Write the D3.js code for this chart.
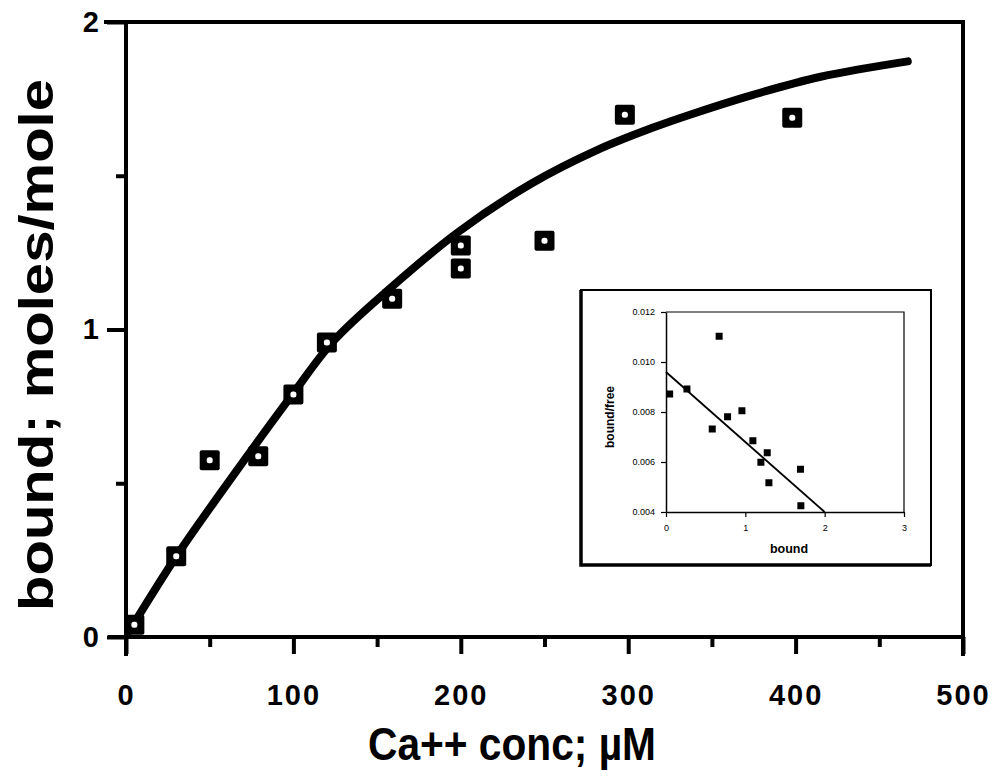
<!DOCTYPE html>
<meta charset="utf-8">
<style>
  body { margin: 0; background: #fff; }
  text { font-family: "Liberation Sans", Arial, sans-serif; fill: #000; }
</style>
<body>
<script src="https://d3js.org/d3.v7.min.js"></script>
<script>

// Main plot: measured binding (Ca++ concentration vs bound)
var concVals  = [5, 30, 50, 79, 100, 120, 159, 200, 200, 250, 298, 398];
var boundVals = [0.04, 0.263, 0.575, 0.588, 0.789, 0.958, 1.10, 1.273, 1.198, 1.289, 1.698, 1.689];

// Fitted curve
var curveX = [2, 30, 57, 79, 100, 124, 158, 198, 242, 282, 314, 336, 375, 415, 467];
var curveY = [0.02, 0.262, 0.472, 0.638, 0.793, 0.963, 1.135, 1.315, 1.474, 1.585, 1.655, 1.697, 1.764, 1.822, 1.872];

var xMajor = [0, 100, 200, 300, 400, 500];
var xMinor = [50, 150, 250, 350, 450];
var yMajor = [0, 1, 2];
var yMinor = [0.5, 1.5];

// Inset: Scatchard plot
var scatBound = [0.046, 0.264, 0.67, 0.583, 0.776, 0.957, 1.095, 1.196, 1.276, 1.297, 1.695, 1.70];
var scatRatio = [0.00872, 0.00892, 0.01103, 0.00732, 0.00781, 0.00805, 0.00685, 0.00599, 0.00637, 0.00517, 0.00571, 0.00425];
var fitBound = [0, 2.0];
var fitRatio = [0.0096, 0.0040];
var insetXTicks = [0, 1, 2, 3];
var insetYTicks = [0.004, 0.006, 0.008, 0.010, 0.012];

var svg = d3.select("body").append("svg")
    .attr("width", 995)
    .attr("height", 779);

var x = d3.scaleLinear().domain([0, 500]).range([126, 963]);
var y = d3.scaleLinear().domain([0, 2]).range([637, 22]);

// ticks (labels only on major)
var xMajAxis = svg.append("g")
    .attr("transform", "translate(0," + y(0) + ")")
    .call(d3.axisBottom(x).tickValues(xMajor).tickSize(17).tickSizeOuter(0).tickPadding(30)
      .tickFormat(d3.format("d")));
var xMinAxis = svg.append("g")
    .attr("transform", "translate(0," + y(0) + ")")
    .call(d3.axisBottom(x).tickValues(xMinor).tickSize(10).tickSizeOuter(0).tickFormat(""));
var yMajAxis = svg.append("g")
    .attr("transform", "translate(" + x(0) + ",0)")
    .call(d3.axisLeft(y).tickValues(yMajor).tickSize(19).tickSizeOuter(0).tickPadding(6)
      .tickFormat(d3.format("d")));
var yMinAxis = svg.append("g")
    .attr("transform", "translate(" + x(0) + ",0)")
    .call(d3.axisLeft(y).tickValues(yMinor).tickSize(10).tickSizeOuter(0).tickFormat(""));

[xMajAxis, xMinAxis, yMajAxis, yMinAxis].forEach(function(g) {
  g.select(".domain").remove();
  g.selectAll("line").attr("stroke", "#000").attr("stroke-width", 4);
  g.selectAll("text")
    .style("font-size", "29px")
    .style("font-weight", "bold")
    .style("letter-spacing", "2px")
    .attr("fill", "#000");
});

// frame lines
svg.append("g").selectAll("line")
  .data([
    [110, y(0), x(500), y(0)],
    [x(0), y(2), x(0), y(0) + 17],
    [106, y(2), x(500), y(2)],
    [x(500), y(2), x(500), y(0) + 17]
  ])
  .enter().append("line")
    .attr("x1", function(d) { return d[0]; })
    .attr("y1", function(d) { return d[1]; })
    .attr("x2", function(d) { return d[2]; })
    .attr("y2", function(d) { return d[3]; })
    .attr("stroke", "#000")
    .attr("stroke-width", 4)
    .attr("stroke-linecap", "square");

// fitted curve
var line = d3.line()
    .x(function(d) { return x(d[0]); })
    .y(function(d) { return y(d[1]); })
    .curve(d3.curveCatmullRom.alpha(0.5));

svg.append("path")
    .datum(curveX.map(function(v, i) { return [v, curveY[i]]; }))
    .attr("d", line)
    .attr("fill", "none")
    .attr("stroke", "#000")
    .attr("stroke-width", 8)
    .attr("stroke-linecap", "round");

// data markers: black squares with a small white hole
var pts = concVals.map(function(v, i) { return [v, boundVals[i]]; });
var mk = svg.append("g").selectAll("g")
    .data(pts)
  .enter().append("g")
    .attr("transform", function(d) { return "translate(" + x(d[0]) + "," + y(d[1]) + ")"; });
mk.append("rect")
    .attr("x", -10).attr("y", -10)
    .attr("width", 20).attr("height", 20)
    .attr("rx", 2)
    .attr("fill", "#000");
mk.append("rect")
    .attr("x", -3).attr("y", -3)
    .attr("width", 6).attr("height", 6)
    .attr("rx", 2.5)
    .attr("fill", "#fff");

// axis titles
svg.append("text")
    .attr("x", 368)
    .attr("y", 760)
    .attr("textLength", 288)
    .attr("lengthAdjust", "spacingAndGlyphs")
    .style("font-size", "46px")
    .style("font-weight", "bold")
    .text("Ca++ conc; \u00b5M");

svg.append("text")
    .attr("transform", "translate(53,345) rotate(-90)")
    .attr("text-anchor", "middle")
    .attr("textLength", 532)
    .attr("lengthAdjust", "spacingAndGlyphs")
    .style("font-size", "48px")
    .style("font-weight", "bold")
    .text("bound; moles/mole");

// ---------- inset ----------
var inset = svg.append("g");
inset.append("rect")
    .attr("x", 581).attr("y", 290)
    .attr("width", 350).attr("height", 275)
    .attr("fill", "#fff")
    .attr("stroke", "#000")
    .attr("stroke-width", 2);
// heavier left and bottom edge, as in the scan
inset.append("path")
    .attr("d", "M581,290V565H931")
    .attr("fill", "none")
    .attr("stroke", "#000")
    .attr("stroke-width", 3.5);

var ix = d3.scaleLinear().domain([0, 3]).range([666, 904]);
var iy = d3.scaleLinear().domain([0.004, 0.012]).range([512, 312]);

var ixAxis = inset.append("g")
    .attr("transform", "translate(0," + iy(0.004) + ")")
    .call(d3.axisBottom(ix).tickValues(insetXTicks).tickSize(5).tickSizeOuter(0).tickPadding(8)
      .tickFormat(d3.format("d")));
var iyAxis = inset.append("g")
    .attr("transform", "translate(" + ix(0) + ",0)")
    .call(d3.axisLeft(iy).tickValues(insetYTicks).tickSize(5).tickSizeOuter(0).tickPadding(6)
      .tickFormat(d3.format(".3f")));
[ixAxis, iyAxis].forEach(function(g) {
  g.select(".domain").attr("stroke", "#000").attr("stroke-width", 1.5);
  g.selectAll("line").attr("stroke", "#000").attr("stroke-width", 1.2);
  g.selectAll("text")
    .style("font-size", "9px")
    .attr("fill", "#111");
});

// inset frame (top and right)
inset.append("path")
    .attr("d", "M" + ix(0) + "," + iy(0.012) + "H" + ix(3) + "V" + iy(0.004))
    .attr("fill", "none")
    .attr("stroke", "#000")
    .attr("stroke-width", 1.2);

inset.append("line")
    .attr("x1", ix(fitBound[0])).attr("y1", iy(fitRatio[0]))
    .attr("x2", ix(fitBound[1])).attr("y2", iy(fitRatio[1]))
    .attr("stroke", "#000")
    .attr("stroke-width", 1.8);

inset.append("g").selectAll("rect")
    .data(scatBound.map(function(v, i) { return [v, scatRatio[i]]; }))
  .enter().append("rect")
    .attr("x", function(d) { return ix(d[0]) - 3.5; })
    .attr("y", function(d) { return iy(d[1]) - 3.5; })
    .attr("width", 7).attr("height", 7)
    .attr("fill", "#000");

inset.append("text")
    .attr("x", ix(1.5) + 4)
    .attr("y", 553)
    .attr("text-anchor", "middle")
    .style("font-size", "12.5px")
    .style("font-weight", "bold")
    .text("bound");

inset.append("text")
    .attr("transform", "translate(614,417) rotate(-90)")
    .attr("text-anchor", "middle")
    .style("font-size", "12px")
    .style("font-weight", "bold")
    .text("bound/free");

</script>
</body>
